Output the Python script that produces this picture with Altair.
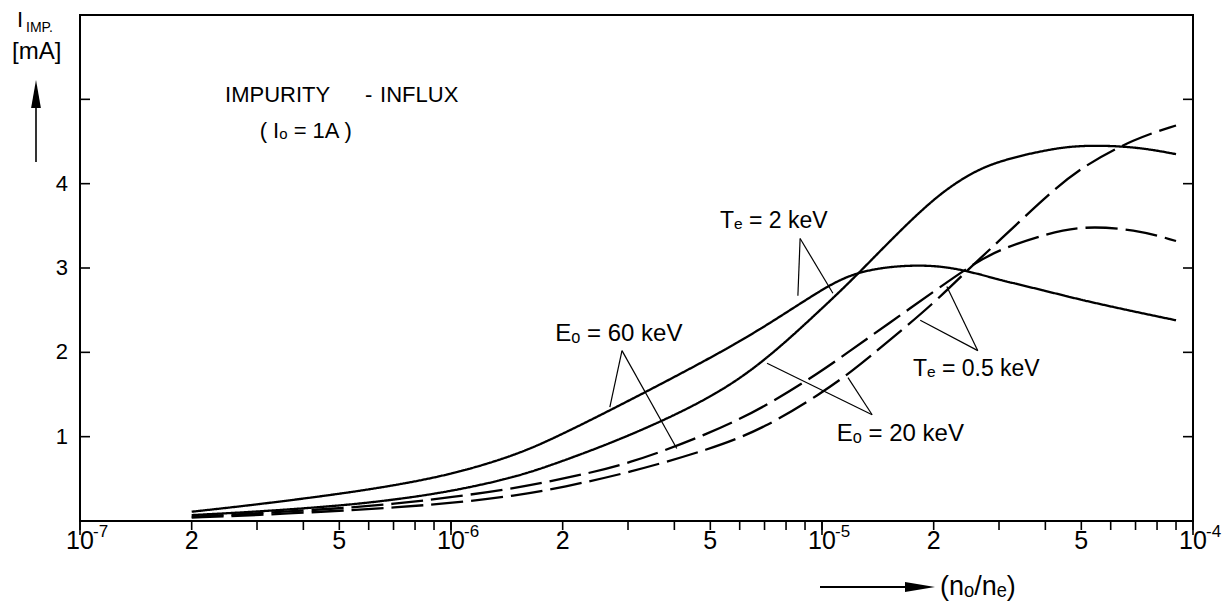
import altair as alt
import pandas as pd

# ---------------- data ----------------
x_vals = [2e-7, 3e-7, 5e-7, 7e-7, 1e-6, 1.5e-6, 2e-6, 3e-6, 5e-6, 7e-6,
          1e-5, 1.2e-5, 1.5e-5, 2e-5, 2.5e-5, 3e-5, 4e-5, 5e-5, 7e-5, 9e-5]

# solid curves (Te = 2 keV)
te2_e60 = [0.11, 0.195, 0.32, 0.42, 0.55, 0.78, 1.03, 1.42, 1.93, 2.30,
           2.75, 2.93, 3.02, 3.04, 2.96, 2.86, 2.73, 2.62, 2.48, 2.38]
te2_e20 = [0.07, 0.11, 0.18, 0.25, 0.35, 0.52, 0.71, 1.00, 1.45, 1.89,
           2.52, 2.85, 3.29, 3.83, 4.12, 4.27, 4.40, 4.46, 4.44, 4.35]
# dashed curves (Te = 0.5 keV)
te05_e60 = [0.05, 0.09, 0.15, 0.20, 0.28, 0.39, 0.50, 0.67, 1.04, 1.35,
            1.78, 2.03, 2.33, 2.72, 3.02, 3.22, 3.40, 3.50, 3.46, 3.32]
te05_e20 = [0.04, 0.07, 0.12, 0.16, 0.21, 0.30, 0.40, 0.57, 0.85, 1.10,
            1.52, 1.77, 2.12, 2.58, 3.00, 3.32, 3.84, 4.20, 4.54, 4.69]

series_names = ["Te=2 keV, E0=60 keV", "Te=2 keV, E0=20 keV",
                "Te=0.5 keV, E0=60 keV", "Te=0.5 keV, E0=20 keV"]
series_styles = ["solid", "solid", "dashed", "dashed"]
series_values = [te2_e60, te2_e20, te05_e60, te05_e20]

# axis ticks and labels
x_tick_values = [1e-7, 2e-7, 3e-7, 4e-7, 5e-7, 6e-7, 7e-7, 8e-7, 9e-7,
                 1e-6, 2e-6, 3e-6, 4e-6, 5e-6, 6e-6, 7e-6, 8e-6, 9e-6,
                 1e-5, 2e-5, 3e-5, 4e-5, 5e-5, 6e-5, 7e-5, 8e-5, 9e-5, 1e-4]
x_label_values = [1e-7, 2e-7, 5e-7, 1e-6, 2e-6, 5e-6, 1e-5, 2e-5, 5e-5, 1e-4]
x_label_texts = ["10", "2", "5", "10", "2", "5", "10", "2", "5", "10"]
decade_values = [1e-7, 1e-6, 1e-5, 1e-4]
decade_exponents = ["-7", "-6", "-5", "-4"]
y_label_values = [1, 2, 3, 4]
y_label_texts = ["1", "2", "3", "4"]
y_tick_values = [1, 2, 3, 4, 5]

# annotation texts (placed in data coordinates)
ann_texts = ["IMPURITY", "-", "INFLUX", "( Iₒ = 1A )", "Eₒ = 60 keV", "Tₑ = 2 keV",
             "Eₒ = 20 keV", "Tₑ = 0.5 keV"]
ann_x = [2.46e-7, 5.86e-7, 6.44e-7, 3.05e-7, 1.91e-6, 5.31e-6, 1.096e-5, 1.758e-5]
ann_y = [5.05, 5.05, 5.05, 4.63, 2.22, 3.56, 1.03, 1.80]
ann_size = [22, 22, 22, 22, 24, 23, 24, 23]

# leader lines of the annotations (data coordinates)
lead_x1 = [2.89e-6, 2.89e-6, 8.73e-6, 8.73e-6, 1.365e-5, 1.365e-5, 2.63e-5, 2.63e-5]
lead_y1 = [2.02, 2.02, 3.35, 3.35, 1.26, 1.26, 2.02, 2.02]
lead_x2 = [2.68e-6, 4.06e-6, 8.61e-6, 1.07e-5, 7.11e-6, 1.175e-5, 1.84e-5, 2.17e-5]
lead_y2 = [1.35, 0.86, 2.67, 2.70, 1.87, 1.70, 2.38, 2.78]

# ---------------- chart ----------------
W, H = 1113, 506
FONT = "Liberation Sans"

rows = []
for name, style, vals in zip(series_names, series_styles, series_values):
    for xv, yv in zip(x_vals, vals):
        rows.append({"x": xv, "y": yv, "series": name, "style": style})
curves = pd.DataFrame(rows)

xscale = alt.Scale(type="log", domain=[1e-7, 1e-4], nice=False)
yscale = alt.Scale(domain=[0, 6], nice=False)


def X(field):
    return alt.X(field, scale=xscale, axis=None)


def Y(field):
    return alt.Y(field, scale=yscale, axis=None)


lines = alt.Chart(curves).mark_line(
    color="black", strokeWidth=2.3, interpolate="basis"
).encode(
    x=X("x:Q"),
    y=Y("y:Q"),
    detail="series:N",
    strokeDash=alt.StrokeDash(
        "style:N",
        scale=alt.Scale(domain=["solid", "dashed"], range=[[1, 0], [32, 8]]),
        legend=None,
    ),
)

# x ticks (outward) and labels
xt = pd.DataFrame({"x": x_tick_values})
x_ticks = alt.Chart(xt).mark_rule(color="black", strokeWidth=1.6).encode(
    x=X("x:Q"), y=alt.value(H), y2=alt.value(H + 9))
dt = pd.DataFrame({"x": decade_values, "t": decade_exponents})
x_dec_ticks = alt.Chart(dt).mark_rule(color="black", strokeWidth=1.6).encode(
    x=X("x:Q"), y=alt.value(H), y2=alt.value(H + 14))
xl = pd.DataFrame({"x": x_label_values, "t": x_label_texts})
x_labels = alt.Chart(xl).mark_text(
    align="center", baseline="top", fontSize=25, font=FONT, color="black"
).encode(x=X("x:Q"), y=alt.value(H + 8), text="t:N")
exponents = alt.Chart(dt).mark_text(
    align="left", baseline="top", dx=13, fontSize=17, font=FONT, color="black"
).encode(x=X("x:Q"), y=alt.value(H + 3), text="t:N")

# y ticks (inward, both sides) and labels
yt = pd.DataFrame({"y": y_tick_values})
left_ticks = alt.Chart(yt).mark_rule(color="black", strokeWidth=1.6).encode(
    y=Y("y:Q"), x=alt.value(0), x2=alt.value(10))
right_ticks = alt.Chart(yt).mark_rule(color="black", strokeWidth=1.6).encode(
    y=Y("y:Q"), x=alt.value(W - 10), x2=alt.value(W))
yl = pd.DataFrame({"y": y_label_values, "t": y_label_texts})
y_labels = alt.Chart(yl).mark_text(
    align="right", baseline="middle", fontSize=22, font=FONT, color="black"
).encode(y=Y("y:Q"), x=alt.value(-12), text="t:N")

ann_df = pd.DataFrame({"x": ann_x, "y": ann_y, "t": ann_texts, "s": ann_size})
annotations = alt.Chart(ann_df).mark_text(
    align="left", baseline="middle", font=FONT, color="black"
).encode(
    x=X("x:Q"), y=Y("y:Q"), text="t:N",
    size=alt.Size("s:Q", scale=None, legend=None),
)

lead_df = pd.DataFrame({"x1": lead_x1, "y1": lead_y1, "x2": lead_x2, "y2": lead_y2})
leaders = alt.Chart(lead_df).mark_rule(color="black", strokeWidth=1.2).encode(
    x=X("x1:Q"), x2="x2:Q", y=Y("y1:Q"), y2="y2:Q",
)

one = pd.DataFrame({"k": [0]})


def txt(s, x, y, size):
    return alt.Chart(one).mark_text(
        text=s, align="left", baseline="middle", fontSize=size, font=FONT, color="black"
    ).encode(x=alt.value(x), y=alt.value(y))


y_title = [
    txt("I", -63, 5, 22),
    txt("IMP.", -54, 13, 14),
    txt("[mA]", -68, 37, 24),
    alt.Chart(one).mark_rule(color="black", strokeWidth=1.6).encode(
        x=alt.value(-44), y=alt.value(147), y2=alt.value(80)),
    alt.Chart(one).mark_point(
        shape="M0,-1L0.35,1L-0.35,1Z", filled=True, color="black", opacity=1, size=784
    ).encode(x=alt.value(-44), y=alt.value(79)),
]
x_title = [
    alt.Chart(one).mark_rule(color="black", strokeWidth=1.8).encode(
        x=alt.value(740), x2=alt.value(845), y=alt.value(572)),
    alt.Chart(one).mark_point(
        shape="M1,0L-1,-0.33L-1,0.33Z", filled=True, color="black", opacity=1, size=900
    ).encode(x=alt.value(840), y=alt.value(572)),
    txt("(nₒ/nₑ)", 860, 572, 27),
]

chart = alt.layer(
    lines, x_ticks, x_dec_ticks, x_labels, exponents, left_ticks, right_ticks,
    y_labels, leaders, annotations, *y_title, *x_title
).properties(
    width=W, height=H,
    autosize=alt.AutoSizeParams(type="none"),
    padding={"left": 80, "top": 15, "right": 32, "bottom": 87},
    background="white",
).configure_view(stroke="black", strokeWidth=2)

chart.save("out.html", embed_options={"renderer": "svg", "actions": False})
